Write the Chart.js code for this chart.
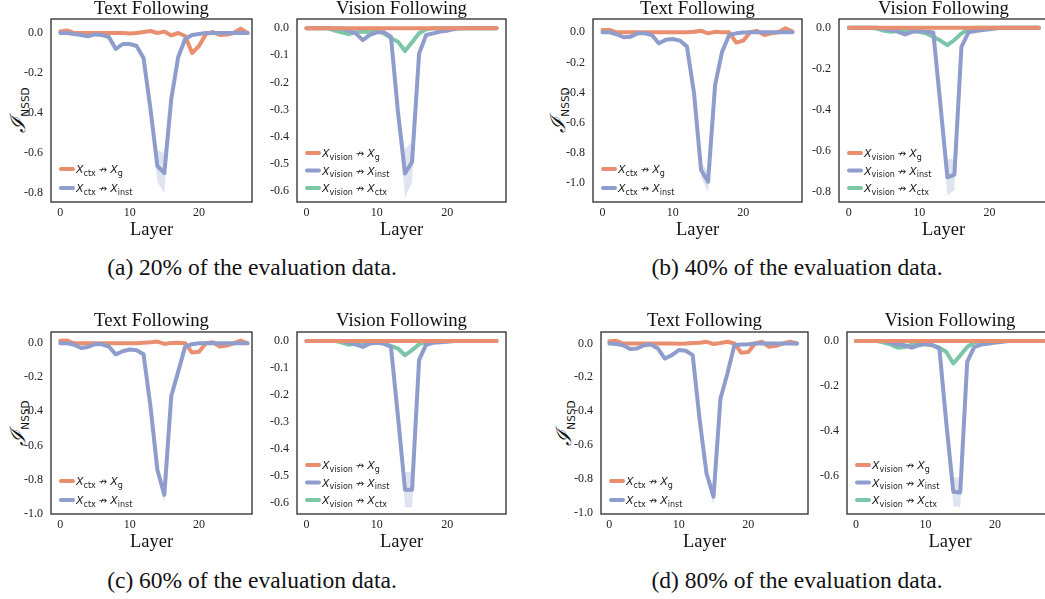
<!DOCTYPE html>
<html>
<head>
<meta charset="utf-8">
<script src="https://cdn.jsdelivr.net/npm/chart.js@4.4.1/dist/chart.umd.min.js"></script>
<style>
body { margin: 0; width: 1045px; height: 599px; overflow: hidden; background: #fff; position: relative; }
canvas { position: absolute; }
.cap { position: absolute; font-family: 'Liberation Serif', serif; font-size: 23.5px; color: #111; transform: translate(-50%, -50%); white-space: nowrap; }
.ylab { position: absolute; transform: translate(-50%, -50%) rotate(-90deg); white-space: nowrap; color: #111; line-height: 1; }
.ylab .i { font-family: 'DejaVu Serif', serif; font-size: 21px; font-style: italic; }
.ylab .s { font-family: 'DejaVu Sans', sans-serif; font-size: 10.5px; position: relative; top: 4px; }
</style>
</head>
<body>
<div class="ylab" style="left:18px;top:110px"><span class="i">ℐ</span><span class="s">NSSD</span></div>
<div class="ylab" style="left:558px;top:110px"><span class="i">ℐ</span><span class="s">NSSD</span></div>
<div class="ylab" style="left:18px;top:423px"><span class="i">ℐ</span><span class="s">NSSD</span></div>
<div class="ylab" style="left:564px;top:423px"><span class="i">ℐ</span><span class="s">NSSD</span></div>
<div class="cap" style="left:252px;top:267px">(a) 20% of the evaluation data.</div>
<div class="cap" style="left:797px;top:267px">(b) 40% of the evaluation data.</div>
<div class="cap" style="left:252px;top:580px">(c) 60% of the evaluation data.</div>
<div class="cap" style="left:797px;top:580px">(d) 80% of the evaluation data.</div>
<script>
// layers 0..27
const layers = [0, 1, 2, 3, 4, 5, 6, 7, 8, 9, 10, 11, 12, 13, 14, 15, 16, 17, 18, 19, 20, 21, 22, 23, 24, 25, 26, 27];
const xTicks = [0, 10, 20];
const ticksTo08 = [0, -0.2, -0.4, -0.6, -0.8];
const ticksTo10 = [0, -0.2, -0.4, -0.6, -0.8, -1.0];
const ticksTo06Fine = [0, -0.1, -0.2, -0.3, -0.4, -0.5, -0.6];
const ticksTo06 = [0, -0.2, -0.4, -0.6];

const textLegend = [['ctx', 'g'], ['ctx', 'inst']];
const visionLegend = [['vision', 'g'], ['vision', 'inst'], ['vision', 'ctx']];

// (a) 20%
const aTextG = [0.008, 0.013, 0, 0, 0, 0, 0, 0, 0, 0, -0.003, 0, 0.005, 0.01, 0, 0.007, -0.012, 0, -0.015, -0.1, -0.065, -0.005, 0.005, -0.01, -0.008, 0, 0.022, 0];
const aTextInst = [0, 0, -0.005, -0.01, -0.017, -0.007, -0.01, -0.02, -0.08, -0.055, -0.055, -0.065, -0.125, -0.38, -0.665, -0.7, -0.33, -0.12, -0.03, -0.01, -0.005, 0, 0, 0, 0, 0, 0, 0];
const aTextSpread = [0, 0, 0, 0, 0, 0, 0, 0, 0.01, 0.008, 0.008, 0.01, 0.012, 0.03, 0.08, 0.1, 0.03, 0.01, 0.005, 0, 0, 0, 0, 0, 0, 0, 0, 0];
const aVisionG = [0, 0, 0, 0, 0, 0, 0, 0, 0, 0, 0, 0, 0, 0, 0, 0, 0, 0, 0, 0, 0, 0, 0, 0, 0, 0, 0, 0];
const aVisionInst = [0, 0, 0, 0, 0, 0, -0.009, -0.019, -0.044, -0.025, -0.015, -0.015, -0.031, -0.31, -0.537, -0.494, -0.094, -0.025, -0.019, -0.012, -0.009, -0.003, 0, 0, 0, 0, 0, 0];
const aVisionCtx = [0, 0, 0, 0, -0.009, -0.015, -0.022, -0.015, -0.012, -0.015, -0.01, -0.019, -0.037, -0.05, -0.084, -0.052, -0.019, -0.004, 0, 0, 0, 0, 0, 0, 0, 0, 0, 0];
const aVisionSpread = [0, 0, 0, 0, 0, 0, 0, 0, 0.005, 0.005, 0, 0, 0.008, 0.02, 0.09, 0.075, 0.01, 0, 0, 0, 0, 0, 0, 0, 0, 0, 0, 0];

// (b) 40%
const bTextG = [0.015, 0.015, 0, 0, 0, 0, 0, 0, 0, 0, 0, 0, 0, 0.003, 0.01, -0.007, 0.003, 0, 0, -0.068, -0.055, 0, 0.009, -0.018, -0.007, 0, 0.026, 0.004];
const bTextInst = [0, 0, -0.013, -0.033, -0.029, -0.007, -0.007, -0.018, -0.073, -0.05, -0.044, -0.055, -0.095, -0.4, -0.91, -0.99, -0.35, -0.128, -0.018, -0.007, -0.002, 0, 0, 0, 0, 0, 0, 0];
const bTextSpread = [0, 0, 0, 0, 0, 0, 0, 0, 0.008, 0.006, 0.006, 0.008, 0.01, 0.02, 0.05, 0.07, 0.02, 0.008, 0, 0, 0, 0, 0, 0, 0, 0, 0, 0];
const bVisionG = [0, 0, 0, 0, 0, 0, 0, 0, 0, 0, 0, 0, 0, 0, 0, 0, 0, 0, 0, 0, 0, 0, 0, 0, 0, 0, 0, 0];
const bVisionInst = [0, 0, 0, 0, 0, -0.007, -0.011, -0.02, -0.033, -0.02, -0.016, -0.02, -0.023, -0.37, -0.727, -0.714, -0.093, -0.023, -0.016, -0.011, -0.008, -0.003, 0, 0, 0, 0, 0, 0];
const bVisionCtx = [0, 0, 0, 0, -0.005, -0.015, -0.02, -0.015, -0.015, -0.016, -0.02, -0.028, -0.044, -0.063, -0.085, -0.06, -0.028, -0.008, 0, 0, 0, 0, 0, 0, 0, 0, 0, 0];
const bVisionSpread = [0, 0, 0, 0, 0, 0, 0, 0, 0.005, 0.005, 0, 0, 0.008, 0.02, 0.09, 0.075, 0.01, 0, 0, 0, 0, 0, 0, 0, 0, 0, 0, 0];

// (c) 60%
const cTextG = [0.014, 0.016, 0, 0, 0, 0, 0, 0, 0, 0, 0, 0, 0.003, 0.006, 0.01, -0.004, 0.002, 0.003, 0, -0.055, -0.05, 0, 0.006, -0.02, -0.014, 0, 0.016, 0];
const cTextInst = [0, 0, -0.009, -0.028, -0.022, -0.006, -0.006, -0.019, -0.065, -0.047, -0.037, -0.041, -0.065, -0.37, -0.745, -0.89, -0.31, -0.167, -0.02, -0.006, 0, 0, 0, 0, 0, 0, 0, 0];
const cTextSpread = [0, 0, 0, 0, 0, 0, 0, 0, 0.006, 0.005, 0.005, 0.006, 0.008, 0.015, 0.03, 0.05, 0.015, 0.006, 0, 0, 0, 0, 0, 0, 0, 0, 0, 0];
const cVisionG = [0, 0, 0, 0, 0, 0, 0, 0, 0, 0, 0, 0, 0, 0, 0, 0, 0, 0, 0, 0, 0, 0, 0, 0, 0, 0, 0, 0];
const cVisionInst = [0, 0, 0, 0, 0, 0, -0.006, -0.014, -0.022, -0.01, -0.007, -0.01, -0.022, -0.28, -0.55, -0.55, -0.07, -0.014, -0.007, -0.005, -0.003, 0, 0, 0, 0, 0, 0, 0];
const cVisionCtx = [0, 0, 0, 0, 0, -0.006, -0.014, -0.01, -0.007, -0.007, -0.005, -0.01, -0.018, -0.028, -0.053, -0.034, -0.012, -0.004, 0, 0, 0, 0, 0, 0, 0, 0, 0, 0];
const cVisionSpread = [0, 0, 0, 0, 0, 0, 0, 0, 0.004, 0.004, 0, 0, 0.006, 0.015, 0.065, 0.065, 0.01, 0, 0, 0, 0, 0, 0, 0, 0, 0, 0, 0];

// (d) 80%
const dTextG = [0.014, 0.016, 0, 0, 0, 0, 0, 0, 0, 0, -0.002, 0, 0.003, 0.005, 0.01, -0.003, 0.003, 0.01, 0, -0.055, -0.05, 0, 0.01, -0.02, -0.014, 0, 0.01, 0];
const dTextInst = [0, -0.003, -0.01, -0.033, -0.03, -0.01, -0.006, -0.03, -0.089, -0.069, -0.039, -0.043, -0.069, -0.45, -0.77, -0.905, -0.325, -0.177, -0.01, -0.006, -0.005, 0, 0, 0, 0, 0, 0, 0];
const dTextSpread = [0, 0, 0, 0, 0, 0, 0, 0, 0.006, 0.005, 0.005, 0.006, 0.008, 0.015, 0.03, 0.05, 0.015, 0.006, 0, 0, 0, 0, 0, 0, 0, 0, 0, 0];
const dVisionG = [0, 0, 0, 0, 0, 0, 0, 0, 0, 0, 0, 0, 0, 0, 0, 0, 0, 0, 0, 0, 0, 0, 0, 0, 0, 0, 0, 0];
const dVisionInst = [0, 0, 0, 0, 0, -0.007, -0.016, -0.019, -0.03, -0.019, -0.012, -0.019, -0.034, -0.367, -0.671, -0.674, -0.093, -0.027, -0.016, -0.012, -0.007, -0.004, 0, 0, 0, 0, 0, 0];
const dVisionCtx = [0, 0, 0, 0, -0.007, -0.016, -0.03, -0.027, -0.016, -0.012, -0.016, -0.019, -0.03, -0.049, -0.1, -0.064, -0.027, -0.007, -0.003, 0, 0, 0, 0, 0, 0, 0, 0, 0];
const dVisionSpread = [0, 0, 0, 0, 0, 0, 0, 0, 0.005, 0.005, 0, 0, 0.008, 0.02, 0.065, 0.065, 0.01, 0, 0, 0, 0, 0, 0, 0, 0, 0, 0, 0];

const ORANGE = '#e98e6f';
const BLUE = '#8e9dcc';
const GREEN = '#7bc6a6';
const BAND = 'rgba(142, 157, 204, 0.28)';

// box = [left, top, right, bottom] of the plot frame in page pixels
const panels = [
  { title: 'Text Following', box: [51, 19, 252, 202], rowTop: 0, x: [-1.34, 27.64], y: [-0.845, 0.07], yTicks: ticksTo08, g: aTextG, inst: aTextInst, spread: aTextSpread },
  { title: 'Vision Following', box: [297, 19, 506, 202], rowTop: 0, x: [-1.35, 28.35], y: [-0.642, 0.034], yTicks: ticksTo06Fine, g: aVisionG, inst: aVisionInst, ctx: aVisionCtx, spread: aVisionSpread },
  { title: 'Text Following', box: [593, 19, 802, 202], rowTop: 0, x: [-1.35, 28.35], y: [-1.124, 0.088], yTicks: ticksTo10, g: bTextG, inst: bTextInst, spread: bTextSpread },
  { title: 'Vision Following', box: [839, 19, 1048, 202], rowTop: 0, x: [-1.4, 28.3], y: [-0.847, 0.042], yTicks: ticksTo08, g: bVisionG, inst: bVisionInst, ctx: bVisionCtx, spread: bVisionSpread },
  { title: 'Text Following', box: [51, 332, 252, 514], rowTop: 312, x: [-1.34, 27.64], y: [-1.003, 0.066], yTicks: ticksTo10, g: cTextG, inst: cTextInst, spread: cTextSpread },
  { title: 'Vision Following', box: [297, 332, 506, 514], rowTop: 312, x: [-1.35, 28.35], y: [-0.64, 0.033], yTicks: ticksTo06Fine, g: cVisionG, inst: cVisionInst, ctx: cVisionCtx, spread: cVisionSpread },
  { title: 'Text Following', box: [601, 332, 808, 514], rowTop: 312, x: [-1.2, 28.6], y: [-1.008, 0.068], yTicks: ticksTo10, g: dTextG, inst: dTextInst, spread: dTextSpread },
  { title: 'Vision Following', box: [847, 332, 1053, 514], rowTop: 312, x: [-1.3, 28.35], y: [-0.77, 0.04], yTicks: ticksTo06, g: dVisionG, inst: dVisionInst, ctx: dVisionCtx, spread: dVisionSpread }
];

const Y_AXIS_W = 45, X_AXIS_H = 38, RIGHT_PAD = 5;

const frame = {
  id: 'frame',
  afterDatasetsDraw(chart) {
    const { ctx, chartArea: a } = chart;
    ctx.save();
    ctx.strokeStyle = '#2a2a2a';
    ctx.lineWidth = 1.3;
    ctx.strokeRect(a.left, a.top, a.right - a.left, a.bottom - a.top);
    ctx.restore();
  }
};

// legend with subscripts, drawn in the lower left corner of the plot
const mathLegend = {
  id: 'mathLegend',
  afterDraw(chart, args, opts) {
    const { ctx, chartArea: a } = chart;
    const items = chart.data.datasets.filter(d => d.legendSub).sort((p, q) => p.legendRank - q.legendRank);
    const n = items.length;
    items.forEach((d, i) => {
      const y = a.bottom - 14 - (n - 1 - i) * opts.rowGap;
      ctx.save();
      ctx.strokeStyle = d.borderColor;
      ctx.lineWidth = 4;
      ctx.lineCap = 'round';
      ctx.beginPath();
      ctx.moveTo(a.left + 10, y);
      ctx.lineTo(a.left + 22, y);
      ctx.stroke();
      ctx.fillStyle = '#222';
      ctx.textBaseline = 'alphabetic';
      let x = a.left + 25;
      const base = y + 4;
      const part = (t, f, dy) => { ctx.font = f; ctx.fillText(t, x, base + dy); x += ctx.measureText(t).width; };
      part('X', 'italic 11px "DejaVu Sans"', 0);
      part(d.legendSub[0], '8px "DejaVu Sans"', 2.5);
      x += 3;
      part('↛', '10px "DejaVu Sans"', 0);
      x += 3;
      part('X', 'italic 11px "DejaVu Sans"', 0);
      part(d.legendSub[1], '8px "DejaVu Sans"', 2.5);
      ctx.restore();
    });
  }
};

function lineSet(vals, color, order, sub, rank) {
  return {
    data: layers.map((x, i) => ({ x, y: vals[i] })),
    borderColor: color, borderWidth: 4, pointRadius: 0, fill: false, tension: 0,
    borderJoinStyle: 'round', borderCapStyle: 'round', order, legendSub: sub, legendRank: rank
  };
}

panels.forEach(p => {
  const [bl, bt, br, bb] = p.box;
  const titleH = bt - p.rowTop;
  const cv = document.createElement('canvas');
  cv.width = Y_AXIS_W + (br - bl) + RIGHT_PAD;
  cv.height = titleH + (bb - bt) + X_AXIS_H;
  cv.style.left = (bl - Y_AXIS_W) + 'px';
  cv.style.top = p.rowTop + 'px';
  document.body.appendChild(cv);

  const isText = !p.ctx;
  const leg = isText ? textLegend : visionLegend;
  const datasets = [
    { data: layers.map((x, i) => ({ x, y: p.inst[i] - p.spread[i] })), borderWidth: 0, pointRadius: 0, fill: false, order: 10 },
    { data: layers.map((x, i) => ({ x, y: p.inst[i] + p.spread[i] })), borderWidth: 0, pointRadius: 0, fill: '-1', backgroundColor: BAND, order: 9 }
  ];
  if (isText) {
    datasets.push(lineSet(p.g, ORANGE, 1, leg[0], 0));
    datasets.push(lineSet(p.inst, BLUE, 0, leg[1], 1));
  } else {
    datasets.push(lineSet(p.g, ORANGE, 0, leg[0], 0));
    datasets.push(lineSet(p.inst, BLUE, 1, leg[1], 1));
    datasets.push(lineSet(p.ctx, GREEN, 2, leg[2], 2));
  }

  new Chart(cv, {
    type: 'line',
    data: { datasets },
    plugins: [frame, mathLegend],
    options: {
      responsive: false,
      animation: false,
      layout: { padding: { left: 0, right: RIGHT_PAD, top: 0, bottom: 0 } },
      plugins: {
        legend: { display: false },
        tooltip: { enabled: false },
        title: {
          display: true, text: p.title, fullSize: false, color: '#111',
          font: { family: 'Liberation Serif', size: 18.8, weight: 'normal', lineHeight: 1 },
          padding: { top: 0, bottom: titleH - 18.8 }
        },
        mathLegend: { rowGap: isText ? 19 : 17.5 }
      },
      scales: {
        x: {
          type: 'linear', min: p.x[0], max: p.x[1],
          grid: { display: false, drawTicks: false }, border: { display: false },
          ticks: { font: { family: 'Liberation Serif', size: 12 }, color: '#222', padding: 4, maxRotation: 0 },
          afterBuildTicks: s => { s.ticks = xTicks.map(v => ({ value: v })); },
          afterFit: s => { s.height = X_AXIS_H; },
          title: {
            display: true, text: 'Layer', color: '#111',
            font: { family: 'Liberation Serif', size: 18.5, lineHeight: 1 },
            padding: { top: 0, bottom: 1 }
          }
        },
        y: {
          type: 'linear', min: p.y[0], max: p.y[1],
          grid: { display: false, drawTicks: false }, border: { display: false },
          ticks: { font: { family: 'Liberation Serif', size: 12 }, color: '#222', padding: 8, callback: v => v.toFixed(1) },
          afterBuildTicks: s => { s.ticks = p.yTicks.map(v => ({ value: v })); },
          afterFit: s => { s.width = Y_AXIS_W; }
        }
      }
    }
  });
});
</script>
</body>
</html>
